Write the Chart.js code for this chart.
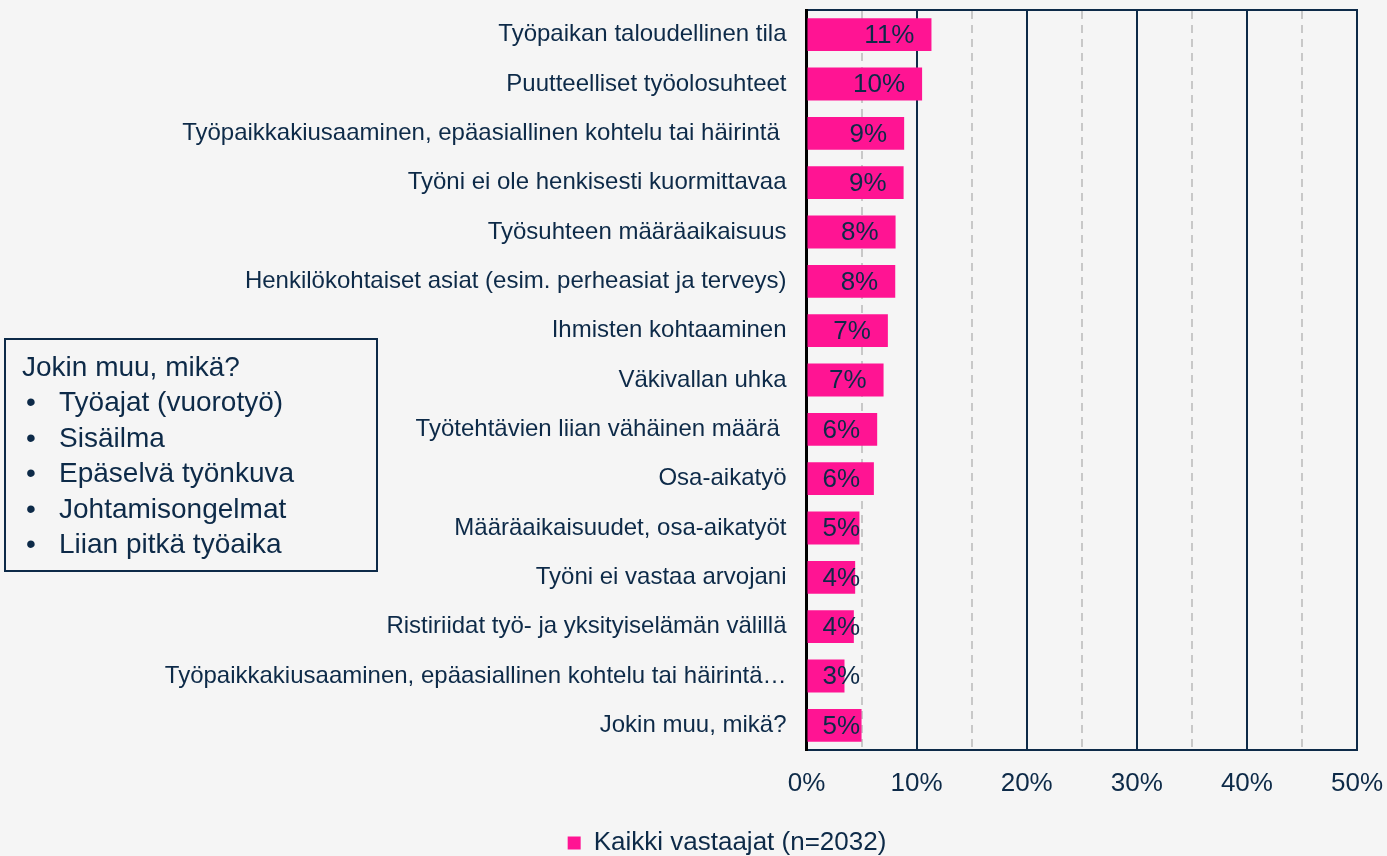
<!DOCTYPE html>
<html>
<head>
<meta charset="utf-8">
<script src="https://cdn.jsdelivr.net/npm/chart.js@4.4.1/dist/chart.umd.min.js"></script>
<style>
    html, body { margin: 0; padding: 0; background: #f5f5f5; }
    #wrap { position: relative; width: 1387px; height: 856px; }
    #note {
        position: absolute; left: 4px; top: 338px; width: 370px; height: 230px;
        border: 2px solid #0d2a48; box-sizing: content-box;
        font-family: "Liberation Sans", Arial, sans-serif; font-size: 28px; line-height: 35.5px;
        color: #0d2a48; padding: 0;
    }
    #note .t { position: absolute; left: 16px; top: 9px; white-space: nowrap; }
    #note ul { position: absolute; left: 0; top: 44px; margin: 0; padding: 0; list-style: none; }
    #note li { position: relative; padding-left: 53px; white-space: nowrap; }
    #note li::before { content: "•"; position: absolute; left: 20px; }
</style>
</head>
<body>
<div id="wrap">
    <canvas id="chart" width="1387" height="856"></canvas>
    <div id="note">
        <div class="t">Jokin muu, mikä?</div>
        <ul id="noteList"></ul>
    </div>
</div>
<script>
const categories = [
    'Työpaikan taloudellinen tila',
    'Puutteelliset työolosuhteet',
    'Työpaikkakiusaaminen, epäasiallinen kohtelu tai häirintä ',
    'Työni ei ole henkisesti kuormittavaa',
    'Työsuhteen määräaikaisuus',
    'Henkilökohtaiset asiat (esim. perheasiat ja terveys)',
    'Ihmisten kohtaaminen',
    'Väkivallan uhka',
    'Työtehtävien liian vähäinen määrä ',
    'Osa-aikatyö',
    'Määräaikaisuudet, osa-aikatyöt',
    'Työni ei vastaa arvojani',
    'Ristiriidat työ- ja yksityiselämän välillä',
    'Työpaikkakiusaaminen, epäasiallinen kohtelu tai häirintä…',
    'Jokin muu, mikä?'
];
const values = [11.35, 10.5, 8.87, 8.82, 8.09, 8.06, 7.39, 7.0, 6.42, 6.12, 4.81, 4.42, 4.3, 3.45, 5.0];
const valueLabels = ['11%', '10%', '9%', '9%', '8%', '8%', '7%', '7%', '6%', '6%', '5%', '4%', '4%', '3%', '5%'];
const seriesName = 'Kaikki vastaajat (n=2032)';
const otherAnswers = ['Työajat (vuorotyö)', 'Sisäilma', 'Epäselvä työnkuva', 'Johtamisongelmat', 'Liian pitkä työaika'];

const navy = '#0d2a48';
const pink = '#ff1493';
const font = '"Liberation Sans", Arial, sans-serif';

document.getElementById('noteList').innerHTML = otherAnswers.map(a => '<li>' + a + '</li>').join('');

// data labels: inside end, pushed right when the bar is too short
const barLabels = {
    id: 'barLabels',
    afterDatasetsDraw(chart) {
        const ctx = chart.ctx;
        const meta = chart.getDatasetMeta(0);
        ctx.save();
        ctx.font = '26px ' + font;
        ctx.fillStyle = navy;
        ctx.textAlign = 'right';
        ctx.textBaseline = 'middle';
        meta.data.forEach((bar, i) => {
            const txt = valueLabels[i];
            const w = ctx.measureText(txt).width;
            const x = Math.max(bar.x - 17, bar.base + 15 + w);
            ctx.fillText(txt, x, bar.y + 1);
        });
        ctx.restore();
    }
};

const bgPlugin = {
    id: 'bg',
    beforeDraw(chart) {
        const ctx = chart.ctx;
        ctx.save();
        ctx.fillStyle = '#f5f5f5';
        ctx.fillRect(0, 0, chart.width, chart.height);
        ctx.restore();
    }
};

function noPad(s) {
    s.paddingTop = 0;
    s.paddingBottom = 0;
    s.paddingLeft = 0;
    s.paddingRight = 0;
}

new Chart(document.getElementById('chart').getContext('2d'), {
    type: 'bar',
    data: {
        labels: categories,
        datasets: [{
            label: seriesName,
            data: values,
            backgroundColor: pink,
            borderWidth: 0,
            barPercentage: 0.665,
            categoryPercentage: 1.0
        }]
    },
    options: {
        indexAxis: 'y',
        responsive: false,
        animation: false,
        layout: { padding: { top: 10, right: 30, left: 97, bottom: -10 } },
        scales: {
            x: {
                min: 0,
                max: 50,
                ticks: {
                    stepSize: 10,
                    color: navy,
                    font: { family: font, size: 26 },
                    padding: 18,
                    callback: v => v + '%'
                },
                grid: { color: navy, lineWidth: 2, drawTicks: false },
                border: { color: navy, width: 2 },
                afterFit: s => { s.height = 78; noPad(s); }
            },
            x2: {
                position: 'top',
                min: 0,
                max: 50,
                ticks: { stepSize: 5, display: false },
                grid: {
                    drawTicks: false,
                    lineWidth: 2,
                    color: c => (c.tick && c.tick.value % 10 !== 0) ? '#c8c8c8' : 'rgba(0,0,0,0)'
                },
                border: { color: navy, width: 2, dash: [8, 6] },
                afterFit: s => { s.height = 0; noPad(s); }
            },
            y: {
                ticks: {
                    color: navy,
                    font: { family: font, size: 24 },
                    padding: 20,
                    autoSkip: false
                },
                grid: { display: false, drawTicks: false },
                border: { color: '#000000', width: 3 },
                afterFit: s => { s.width = 709.5; noPad(s); }
            }
        },
        plugins: {
            legend: {
                position: 'bottom',
                labels: {
                    color: navy,
                    font: { family: font, size: 26 },
                    boxWidth: 13,
                    boxHeight: 13,
                    padding: 2
                }
            },
            tooltip: { enabled: false }
        }
    },
    plugins: [bgPlugin, barLabels]
});
</script>
</body>
</html>
